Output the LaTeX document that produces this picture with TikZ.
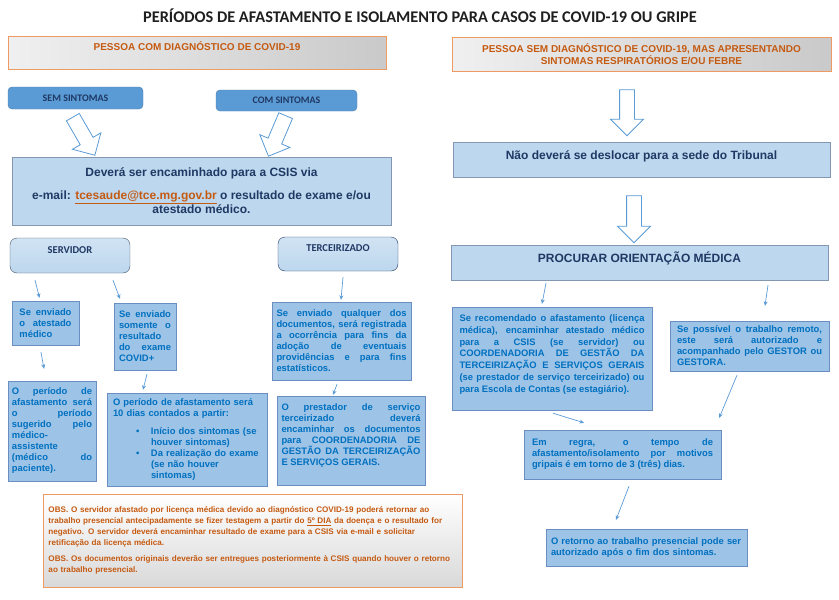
\documentclass[tikz,border=0pt]{standalone}
\usepackage{fontspec}
\setmainfont{Liberation Sans}
\newfontfamily\calibfont{Carlito}
\usetikzlibrary{arrows.meta,shapes.arrows,calc}

\definecolor{orgTxt}{HTML}{C55A11}
\definecolor{orgLine}{HTML}{EE9A62}
\definecolor{navyTxt}{HTML}{1F3864}
\definecolor{midBlue}{HTML}{5B9BD5}
\definecolor{paleBlue}{HTML}{BDD7EE}
\definecolor{boxBlue}{HTML}{9DC3E6}
\definecolor{boxEdge}{HTML}{6A8EC2}
\definecolor{bodyTxt}{HTML}{0070C0}
\definecolor{slate}{HTML}{8497B0}
\definecolor{darkSlate}{HTML}{44546A}
\tolerance=10000
\hyphenpenalty=10000
\hbadness=10000

\begin{document}
\begin{tikzpicture}[
    x=1pt, y=-1pt,
    font=\bfseries,
    hdrbox/.style={draw=orgLine, left color=gray!12, right color=gray!42, text=orgTxt, font=\bfseries\fontsize{10}{12}\selectfont, inner sep=0pt, align=center},
    tabbox/.style={draw=midBlue!80!black, fill=midBlue, rounded corners=4pt, text=navyTxt, font=\calibfont\bfseries\fontsize{10}{12}\selectfont, inner sep=0pt},
    mainbox/.style={draw=slate, fill=paleBlue, text=navyTxt, font=\bfseries\fontsize{12}{14.5}\selectfont, inner sep=0pt, align=center},
    rolebox/.style={rounded corners=7pt, top color=paleBlue!70!white, bottom color=paleBlue, text=navyTxt, font=\calibfont\bfseries\fontsize{10.5}{12}\selectfont, inner sep=0pt},
    infobox/.style={draw=boxEdge, fill=boxBlue, text=bodyTxt, font=\bfseries\fontsize{9.4}{11}\selectfont, align=justify, inner ysep=0pt},
    linkarrow/.style={draw=midBlue, line width=0.7pt, -{Stealth[length=4.5pt,width=4pt]}},
    hollowarrow/.style={single arrow, draw=midBlue, fill=white, line width=0.8pt, inner xsep=0pt, inner ysep=7pt, single arrow head extend=9pt, minimum height=44pt}
  ]
  \useasboundingbox (0,0) rectangle (839,600);

  % Title
  \node[text=black!88, font=\calibfont\bfseries\fontsize{16.3}{19}\selectfont] (title) at (420,16) {PERÍODOS DE AFASTAMENTO E ISOLAMENTO PARA CASOS DE COVID-19 OU GRIPE};

  % Left side: with diagnosis
  \node[hdrbox, minimum width=378pt, text height=14.5pt, text depth=18.5pt] (diag) at (197,52.5) {PESSOA COM DIAGNÓSTICO DE COVID-19};
  \node[tabbox, minimum width=135pt, minimum height=22pt] (semS) at (75.5,98) {SEM SINTOMAS};
  \node[tabbox, minimum width=141pt, minimum height=21pt] (comS) at (286.5,100.5) {COM SINTOMAS};
  \node[hollowarrow, rotate=-60] (arSem) at (82,133) {};
  \node[hollowarrow, rotate=-113] (arCom) at (278.5,132.5) {};
  \node[mainbox, minimum width=379pt, minimum height=68pt] (csis) at (201.5,191) {Deverá ser encaminhado para a CSIS via\\[8pt] e-mail: \textcolor{orgTxt}{\underline{tcesaude@tce.mg.gov.br}} o resultado de exame e/ou\\ atestado médico.};

  % Servidor / Terceirizado
  \node[rolebox, draw=darkSlate, minimum width=120pt, text height=15.5pt, text depth=19.5pt] (srv) at (70,255.5) {SERVIDOR};
  \node[rolebox, draw=navyTxt, minimum width=120pt, text height=14.5pt, text depth=19.5pt] (terc) at (338,254) {TERCEIRIZADO};

  \node[infobox, text width=52pt, inner xsep=7.5pt, minimum height=44pt] (sAt) at (45.5,323) {Se enviado\linebreak o atestado\linebreak médico};
  \node[infobox, text width=52pt, inner xsep=5pt, minimum height=67pt] (sRes) at (145,336.5) {Se enviado\linebreak somente o\linebreak resultado\linebreak do exame\linebreak COVID+};
  \node[infobox, text width=80pt, inner xsep=4pt, minimum height=100pt] (pAt) at (52,431) {O período de\linebreak afastamento será\linebreak o período\linebreak sugerido pelo\linebreak médico-\linebreak assistente\linebreak (médico do\linebreak paciente).};
  \node[infobox, align=left, text width=148pt, inner xsep=6pt, minimum height=93pt] (pRes) at (187,439.5) {O período de afastamento será\\ 10 dias contados a partir:\\[7pt]
    \hspace*{23pt}\makebox[15pt][l]{\textbullet}Início dos sintomas (se\\
    \hspace*{38pt}houver sintomas)\\
    \hspace*{23pt}\makebox[15pt][l]{\textbullet}Da realização do exame\\
    \hspace*{38pt}(se não houver\\
    \hspace*{38pt}sintomas)};
  \node[infobox, text width=130pt, inner xsep=4.5pt, minimum height=78pt] (tDoc) at (341.5,341) {Se enviado qualquer dos\linebreak documentos, será registrada\linebreak a ocorrência para fins da\linebreak adoção de eventuais\linebreak providências e para fins\linebreak estatísticos.};
  \node[infobox, text width=139pt, inner xsep=4.5pt, minimum height=89pt] (tPre) at (351,440.5) {O prestador de serviço\linebreak terceirizado deverá\linebreak encaminhar os documentos\linebreak para COORDENADORIA DE\linebreak GESTÃO DA TERCEIRIZAÇÃO\linebreak E SERVIÇOS GERAIS.\par\vspace*{9pt}};

  \draw[linkarrow] ($(srv.south)+(-35,7)$) -- ($(sAt.north)+(-6,-3)$);
  \draw[linkarrow] ($(srv.south)+(43,7)$) -- ($(sRes.north)+(-25,-4)$);
  \draw[linkarrow] ($(sAt.south)+(-4.5,7)$) -- ($(pAt.north)+(-8,-12)$);
  \draw[linkarrow] ($(sRes.south)+(2,4)$) -- ($(pRes.north)+(-44,-3)$);
  \draw[linkarrow] ($(terc.south)+(5,6)$) -- ($(tDoc.north)+(-0.5,-2)$);
  \draw[linkarrow] ($(tDoc.south)+(-4.5,4)$) -- ($(tPre.north)+(-18,-1)$);

  % Notes
  \node[draw=orgLine, top color=white, middle color=gray!12, bottom color=gray!30, minimum width=419pt, minimum height=93pt, text width=408pt, align=left, inner xsep=5.5pt, text=orgTxt, font=\bfseries\fontsize{8.1}{11}\selectfont] (obs) at (252.5,540.5) {OBS. O servidor afastado por licença médica devido ao diagnóstico COVID-19 poderá retornar ao\\ trabalho presencial antecipadamente se fizer testagem a partir do \underline{5º DIA} da doença e o resultado for\\ negativo. O servidor deverá encaminhar resultado de exame para a CSIS via e-mail e solicitar\\ retificação da licença médica.\\[5pt] OBS. Os documentos originais deverão ser entregues posteriormente à CSIS quando houver o retorno\\ ao trabalho presencial.};

  % Right side: without diagnosis
  \node[hdrbox, minimum width=379pt, minimum height=34pt] (semD) at (641.5,54) {PESSOA SEM DIAGNÓSTICO DE COVID-19, MAS APRESENTANDO\\ SINTOMAS RESPIRATÓRIOS E/OU FEBRE};
  \node[hollowarrow, rotate=-90, minimum height=46pt] (arNao) at (627,109) {};
  \node[mainbox, minimum width=377pt, text height=17pt, text depth=18pt] (nao) at (641.5,159.5) {Não deverá se deslocar para a sede do Tribunal};
  \node[hollowarrow, rotate=-90, minimum height=47pt] (arProc) at (634,215.5) {};
  \node[mainbox, minimum width=377pt, text height=17pt, text depth=18pt] (proc) at (639.5,262.5) {PROCURAR ORIENTAÇÃO MÉDICA};

  \node[infobox, text width=185pt, inner xsep=7.5pt, minimum height=103pt, font=\bfseries\fontsize{9.4}{11.8}\selectfont] (rRec) at (552,358.5) {Se recomendado o afastamento (licença\linebreak médica), encaminhar atestado médico\linebreak para a CSIS (se servidor) ou\linebreak COORDENADORIA DE GESTÃO DA\linebreak TERCEIRIZAÇÃO E SERVIÇOS GERAIS\linebreak (se prestador de serviço terceirizado) ou\linebreak para Escola de Contas (se estagiário).\par\vspace*{8pt}};
  \node[infobox, text width=145pt, inner xsep=7pt, minimum height=50pt] (rRem) at (749.5,346) {Se possível o trabalho remoto,\linebreak este será autorizado e\linebreak acompanhado pelo GESTOR ou\linebreak GESTORA.};
  \node[infobox, text width=181pt, inner xsep=8pt, minimum height=49pt] (rReg) at (622.5,454.5) {Em regra, o tempo de\linebreak afastamento/isolamento por motivos\linebreak gripais é em torno de 3 (três) dias.};
  \node[infobox, align=left, text width=191pt, inner xsep=5pt, minimum height=37pt] (rRet) at (646.5,547.5) {O retorno ao trabalho presencial pode ser\\ autorizado após o fim dos sintomas.};

  \draw[linkarrow] ($(proc.south)+(-93.5,3)$) -- ($(rRec.north)+(-10,-3)$);
  \draw[linkarrow] ($(proc.south)+(128.5,5)$) -- ($(rRem.north)+(15.5,-15)$);
  \draw[linkarrow] ($(rRem.south)+(-12.5,4)$) -- ($(rReg.north east)+(-2,-12)$);
  \draw[linkarrow] ($(rRec.south)+(1,3)$) -- ($(rReg.north)+(-38.5,-7)$);
  \draw[linkarrow] ($(rReg.south)+(6.5,7)$) -- ($(rRet.north)+(-30.5,-9)$);

\end{tikzpicture}
\end{document}
